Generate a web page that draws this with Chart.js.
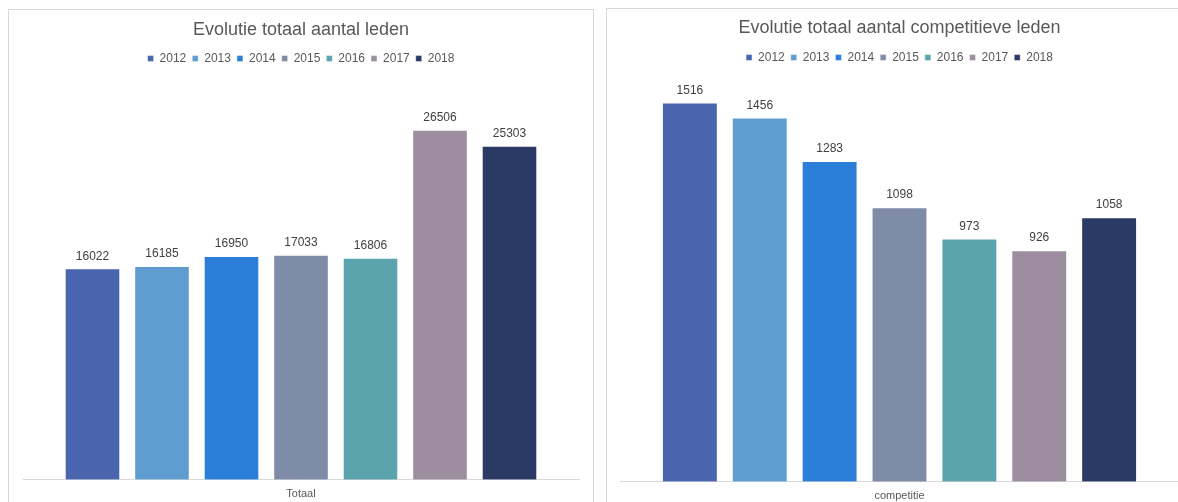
<!DOCTYPE html>
<html>
<head>
<meta charset="utf-8">
<script src="https://cdn.jsdelivr.net/npm/chart.js@4/dist/chart.umd.min.js"></script>
<style>
  html, body { margin: 0; padding: 0; background: #fff; overflow: hidden; width: 1178px; height: 502px; }
  .panel { position: absolute; border: 1px solid #d9d9d9; background: #fff; box-sizing: border-box; }
  #p1 { left: 8px; top: 9px; width: 586px; height: 520px; }
  #p2 { left: 606px; top: 8px; width: 588px; height: 520px; }
  canvas { display: block; }
</style>
</head>
<body>
<div class="panel" id="p1"><canvas id="chart1" width="584" height="502"></canvas></div>
<div class="panel" id="p2"><canvas id="chart2" width="586" height="503"></canvas></div>
<script>
/*global Chart*/
var years = ['2012', '2013', '2014', '2015', '2016', '2017', '2018']
var colors = ['#4865ae', '#5f9dd1', '#2b7fd9', '#7e8ca8', '#5ba3ad', '#9c8e9f', '#2b3a65']
var totaalLabel = ['Totaal']
var totaalValues = [16022, 16185, 16950, 17033, 16806, 26506, 25303]
var compLabel = ['competitie']
var compValues = [1516, 1456, 1283, 1098, 973, 926, 1058]

var fontFamily = '"Liberation Sans", Arial, sans-serif'

// values on top of the bars
var barLabels = {
  id: 'barLabels',
  afterDatasetsDraw: function (chart) {
    var ctx = chart.ctx
    ctx.save()
    ctx.font = '12px ' + fontFamily
    ctx.fillStyle = '#404040'
    ctx.textAlign = 'center'
    ctx.textBaseline = 'middle'
    chart.data.datasets.forEach(function (ds, i) {
      chart.getDatasetMeta(i).data.forEach(function (bar, j) {
        ctx.fillText(String(ds.data[j]), bar.x, bar.y - 12)
      })
    })
    ctx.restore()
  }
}

// extra room under the legend
var legendGap = {
  id: 'legendGap',
  afterInit: function (chart, args, opts) {
    var fit = chart.legend.fit
    chart.legend.fit = function () {
      fit.call(this)
      this.height += opts.gap
    }
  }
}

function makeChart (id, title, label, values, max, pad, titlePad, gap) {
  var datasets = years.map(function (y, i) {
    return {
      label: y,
      data: [values[i]],
      backgroundColor: colors[i],
      borderColor: 'rgba(255,255,255,0.45)',
      borderWidth: 1,
      barPercentage: 0.8,
      categoryPercentage: 0.875
    }
  })
  return new Chart(document.getElementById(id), {
    type: 'bar',
    data: { labels: label, datasets: datasets },
    plugins: [barLabels, legendGap],
    options: {
      responsive: false,
      animation: false,
      layout: { padding: pad },
      plugins: {
        title: {
          display: true,
          text: title,
          color: '#595959',
          font: { family: fontFamily, size: 18, weight: 'normal' },
          padding: titlePad
        },
        legend: {
          display: true,
          labels: {
            boxWidth: 6,
            boxHeight: 6,
            padding: 6,
            color: '#595959',
            font: { family: fontFamily, size: 12 }
          }
        },
        legendGap: { gap: gap },
        tooltip: { enabled: false }
      },
      scales: {
        x: {
          grid: { display: false, drawTicks: false },
          border: { display: true, color: '#d9d9d9', width: 1 },
          ticks: { color: '#595959', padding: 8, font: { family: fontFamily, size: 11 } }
        },
        y: {
          display: false,
          min: 0,
          max: max
        }
      }
    }
  })
}

makeChart('chart1', 'Evolutie totaal aantal leden', totaalLabel, totaalValues, 30000,
  { left: 14, right: 14, top: 0, bottom: 3 }, { top: 9, bottom: 6 }, 9)
makeChart('chart2', 'Evolutie totaal aantal competitieve leden', compLabel, compValues, 1600,
  { left: 13, right: 14, top: 0, bottom: 1 }, { top: 8, bottom: 7 }, 8)
</script>
</body>
</html>
